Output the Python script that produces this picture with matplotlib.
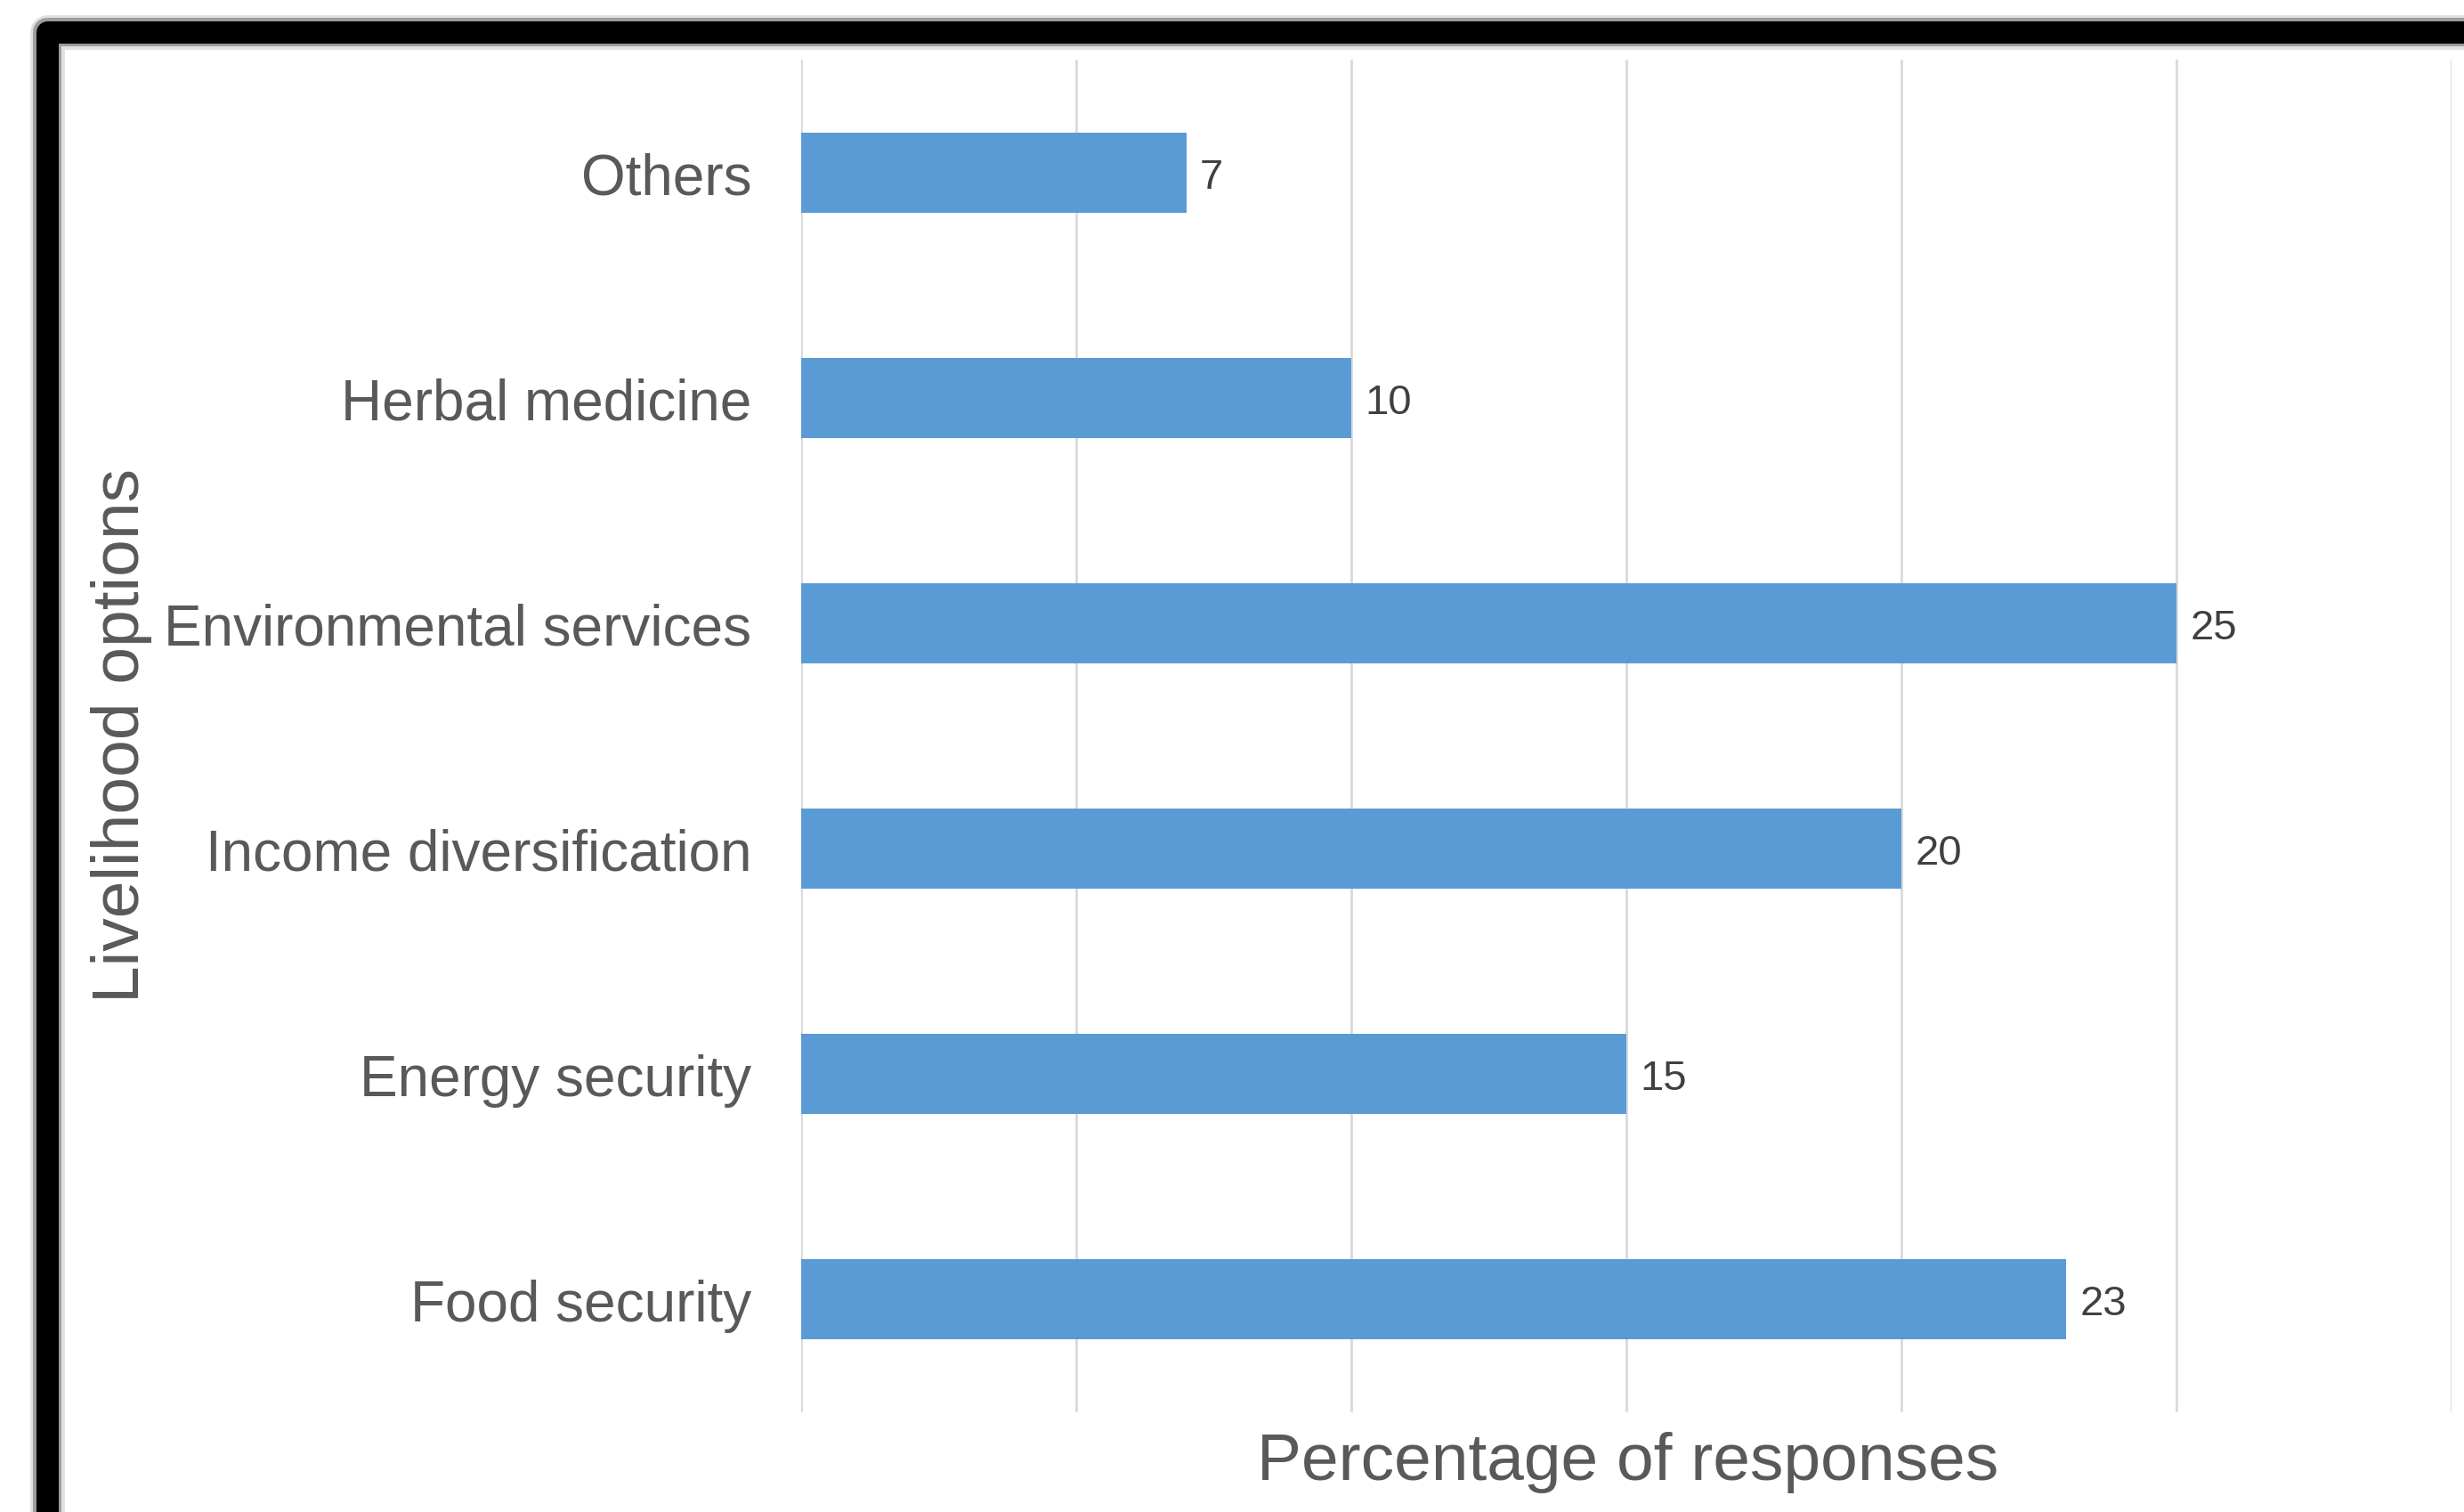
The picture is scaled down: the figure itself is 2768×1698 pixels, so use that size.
import matplotlib
matplotlib.use('Agg')
import matplotlib.pyplot as plt
from matplotlib.patches import Rectangle

# data, bottom to top as drawn
categories = ['Food security', 'Energy security', 'Income diversification',
              'Environmental services', 'Herbal medicine', 'Others']
values = [23, 15, 20, 25, 10, 7]
grid_ticks = [0, 5, 10, 15, 20, 25, 30]

W, H = 2768, 1699
fig = plt.figure(figsize=(W / 100, H / 100), dpi=100)
fig.patch.set_facecolor('white')

font = ['Liberation Sans', 'DejaVu Sans']
label_col = '#595959'

ax = fig.add_axes([900 / W, 1 - 1587 / H, (2754 - 900) / W, (1587 - 68) / H])
ypos = list(range(len(categories)))
ax.barh(ypos, values, height=0.355, color='#5B9BD5', zorder=3)

# value labels just right of each bar
for y, v in zip(ypos, values):
    ax.text(v + 0.25, y - 0.02, str(v), va='center', ha='left', fontsize=34,
            color='#404040', family=font, zorder=4)

ax.set_xlim(0, 30)
ax.set_ylim(-0.5, len(categories) - 0.5)
ax.set_xticks(grid_ticks)
ax.set_xticklabels([])
ax.tick_params(axis='x', length=0)
ax.set_yticks(ypos)
ax.set_yticklabels(categories, fontsize=46, color=label_col, family=font)
ax.tick_params(axis='y', length=0, pad=40)
ax.grid(axis='x', color='#D9D9D9', linewidth=2, zorder=0)
for s in ax.spines.values():
    s.set_visible(False)

fig.text(1829 / W, 1 - 1662 / H, 'Percentage of responses', ha='center',
         va='baseline', fontsize=54, color=label_col, family=font)
fig.text(137 / W, 1 - 826 / H, 'Livelihood options', rotation=90,
         ha='center', va='center', fontsize=54, color=label_col, family=font)

# thick blurred black frame around the chart
x0, y0 = 53 / W, 1 - 37 / H
x1, y1 = 2840 / W, 1 - 1708 / H
for lw, a in [(28, 0.12), (23, 0.3), (18, 1.0)]:
    fig.add_artist(Rectangle((x0, y1), x1 - x0, y0 - y1, transform=fig.transFigure,
                             fill=False, edgecolor='black', linewidth=lw, alpha=a,
                             joinstyle='round'))

fig.savefig('out.png', dpi=100)
